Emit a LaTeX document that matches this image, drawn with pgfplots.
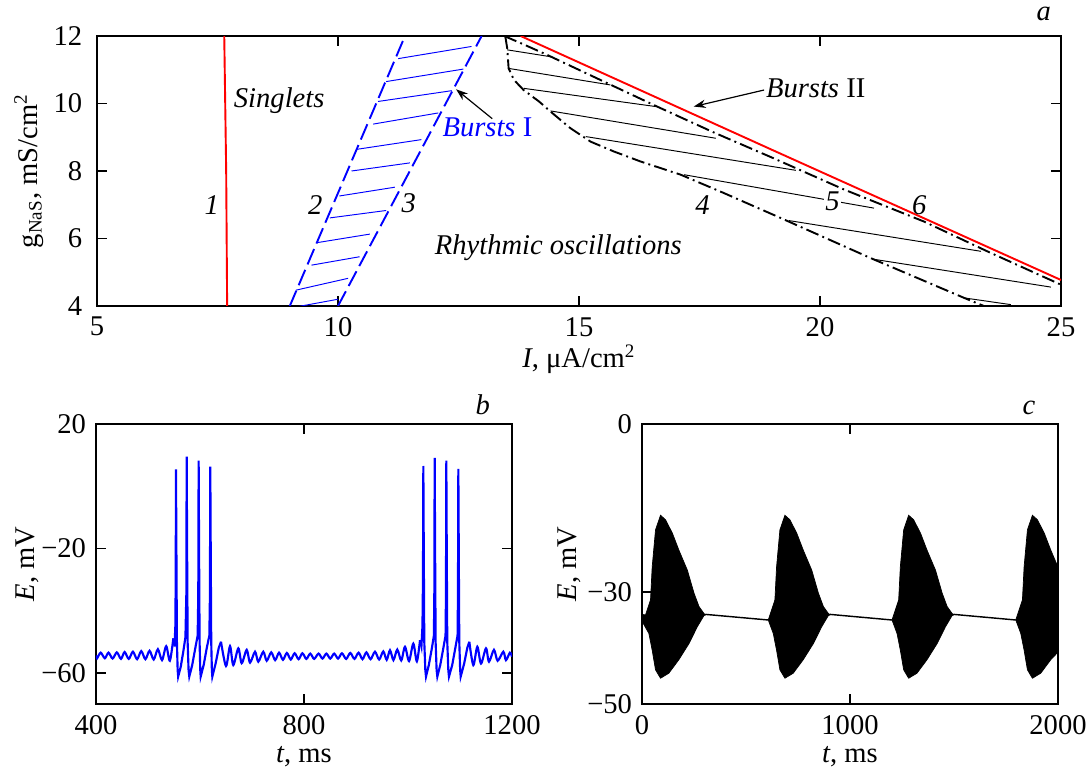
\documentclass[border=0pt]{standalone}
\usepackage{fontspec}
\setmainfont{Liberation Serif}
\usepackage{pgfplots}
\pgfplotsset{compat=1.18}
\usetikzlibrary{arrows.meta}

\definecolor{pblue}{RGB}{0,0,255}
\definecolor{pred}{RGB}{255,0,0}

\begin{document}
\fontsize{12}{14.4}\selectfont
\begin{tikzpicture}
\pgfplotsset{
  every axis/.append style={
    scale only axis,
    anchor=south west,
    axis line style={line width=0.9pt},
    tick align=inside,
    major tick length=4pt,
    tick style={line width=0.6pt, black},
    /pgf/number format/assume math mode=true,
    /pgf/number format/1000 sep={},
    clip mode=individual,
    xticklabel style={yshift=-3.5pt, inner sep=1pt},
    xlabel style={at={(axis description cs:0.5,0)}, anchor=base, inner sep=1pt},
  },
  dashdot/.style={black, line width=0.8pt, dash pattern=on 5.5pt off 1.8pt on 0.8pt off 1.8pt},
  hatch/.style={line width=0.4pt, unbounded coords=jump},
  trace/.style={pblue, line width=0.9pt},
}
\path[use as bounding box] (0,0) rectangle (456.96pt,323.4pt);

% ---------------- panel a ----------------
\begin{axis}[at={(40.74pt,194.88pt)}, width=404.88pt, height=113.4pt,
  xmin=5, xmax=25, ymin=4, ymax=12,
  xtick={5,10,15,20,25}, ytick={4,6,8,10,12},
  yticklabel style={xshift=-2pt},
  xlabel={\textit{I}, μA/cm\textsuperscript{2}},
  xlabel style={yshift=-26pt},
  ylabel={g\textsubscript{NaS}, mS/cm\textsuperscript{2}},
  ylabel style={at={(axis description cs:-0.0706,0.5)}, anchor=center},
]
% line 1
\addplot[pred, line width=0.8pt] coordinates {(7.64,12) (7.66,10) (7.68,8) (7.69,6) (7.70,4)};
% lines 2 and 3
\addplot[pblue, line width=0.8pt, dash pattern=on 7pt off 2.5pt] coordinates {(9.00,4) (11.39,12)};
\addplot[pblue, line width=0.8pt, dash pattern=on 7pt off 2.5pt] coordinates {(10.00,4) (12.98,12)};
% hatching, bursts I
\addplot[pblue, hatch] coordinates {
  (9.20,3.99) (10.00,4.20) (10,nan)
  (9.13,4.47) (10.21,4.82) (10,nan)
  (9.45,5.21) (10.45,5.46) (10,nan)
  (9.58,5.88) (10.66,6.13) (10,nan)
  (9.83,6.61) (11.00,6.83) (10,nan)
  (10.03,7.26) (11.18,7.52) (10,nan)
  (10.28,8.00) (11.49,8.24) (10,nan)
  (10.38,8.64) (11.73,8.93) (10,nan)
  (10.73,9.39) (12.08,9.72) (10,nan)
  (10.83,10.06) (12.36,10.38) (10,nan)
  (11.00,10.65) (12.60,11.02) (10,nan)
  (11.25,11.33) (12.77,11.69)};
% line 4
\addplot[dashdot] coordinates {(13.47,12.0) (13.51,11.64) (13.54,11.04) (13.65,10.70) (13.85,10.40)
  (14.17,10.06) (14.41,9.76) (14.82,9.27) (15.24,8.87) (15.72,8.58) (16.28,8.28) (17.11,7.89)
  (18.0,7.35) (19.18,6.61) (21.05,5.42) (22.99,4.24) (23.4,4.0)};
% line 5
\addplot[dashdot] coordinates {(13.45,12.0) (13.9,11.72) (14.34,11.44) (15.5,10.66) (16.62,9.91)
  (17.8,9.14) (19.0,8.4) (20.5,7.45) (22.16,6.5) (23.5,5.6) (25,4.63)};
% hatching, bursts II
\addplot[black, hatch] coordinates {
  (13.51,11.59) (14.44,11.38) (10,nan)
  (13.54,11.04) (15.65,10.55) (10,nan)
  (13.85,10.45) (16.59,9.91) (10,nan)
  (14.41,9.78) (17.84,8.97) (10,nan)
  (15.14,9.02) (19.50,8.02) (10,nan)
  (17.18,7.89) (21.12,6.90) (10,nan)
  (19.36,6.53) (23.34,5.62) (10,nan)
  (21.09,5.39) (24.79,4.56) (10,nan)
  (22.99,4.24) (23.96,4.04)};
% line 6
\addplot[pred, line width=0.8pt] coordinates {(13.79,12.0) (19.0,8.63) (25,4.77)};

\node at (axis cs:8.78,10.1) {\textit{Singlets}};
\node at (axis cs:7.38,7.0) {\textit{1}};
\node at (axis cs:9.53,7.0) {\textit{2}};
\node at (axis cs:11.47,7.05) {\textit{3}};
\node[text=pblue] at (axis cs:13.1,9.28) {\textit{Bursts} I};
\node at (axis cs:14.57,5.73) {\textit{Rhythmic oscillations}};
\node at (axis cs:17.56,7.0) {\textit{4}};
\node[fill=white, inner sep=0.5pt] at (axis cs:20.26,7.1) {\textit{5}};
\node at (axis cs:22.06,7.0) {\textit{6}};
\node at (axis cs:19.91,10.46) {\textit{Bursts} II};
\draw[-{Stealth[length=5pt,width=3.5pt]}, line width=0.5pt] (axis cs:13.2,9.55) -- (axis cs:12.45,10.42);
\draw[-{Stealth[length=5pt,width=3.5pt]}, line width=0.5pt] (axis cs:18.84,10.40) -- (axis cs:17.38,9.91);
\node[anchor=base] at (rel axis cs:0.982,1) [yshift=6.5pt] {\textit{a}};
\end{axis}

% ---------------- panel b ----------------
\begin{axis}[at={(40.32pt,27.72pt)}, width=174.72pt, height=117.6pt,
  xmin=400, xmax=1200, ymin=-70, ymax=20,
  xtick={400,800,1200}, ytick={-60,-20,20}, yticklabels={−60,−20,20},
  xlabel={\textit{t}, ms},
  xlabel style={yshift=-24.5pt},
  ylabel={\textit{E}, mV},
  ylabel style={at={(axis description cs:-0.164,0.5)}, anchor=center},
]
% sub-threshold oscillations before the first burst
\addplot[trace, smooth, tension=0.5] coordinates {
(400,-54.4)(402,-55.3)(409,-53.5)(417,-55.3)(424,-53.5)(432,-55.4)(440,-53.4)(448,-55.5)(455,-53.3)
(463,-55.5)(471,-53.2)(479,-55.6)(487,-53.0)(495,-55.6)(503,-52.9)(511,-55.7)(519,-52.4)(527,-55.9)
(535,-51.4)(542,-56.1)(548.7,-48.9)};
% first burst
\addplot[trace] coordinates {
(548.7,-48.9)(551,-51.5)(552.6,-45)(553.3,-30)(553.8,5.4)(554.6,-20)(555.6,-50)
(557,-59)(558,-61.2)(563,-58)(568,-53)(572,-48.5)(573.7,-35)(574.4,9.5)(575.2,-20)(576.2,-50)(578,-59)
(579.4,-61.2)(585,-57.5)(591,-52)(595.5,-48)(596.7,-35)(597.4,8.2)(598.2,-20)(599.2,-50)(600.5,-59)
(601.3,-61.2)(607,-57.5)(613,-52)(618,-48)(619.1,-35)(619.8,6.3)(620.6,-20)(621.6,-50)(622.8,-59)
(623.7,-61.2)(630,-57)(636,-52)(640.4,-50.0)};
% oscillations between the bursts
\addplot[trace, smooth, tension=0.5] coordinates {
(640.4,-50.0)(650,-57.8)(657.7,-51.4)(664,-57.5)(673.7,-52.1)(680.2,-56.9)
(689.8,-52.6)(696.2,-56.7)(705.8,-53.2)(712.1,-56.4)(721.7,-53.2)(728.3,-56.1)(737,-53.4)(744.5,-55.9)
(752,-53.5)(759.5,-55.8)(767,-53.6)(774.5,-55.7)(782,-53.7)(789.5,-55.6)(797,-53.7)(804.5,-55.5)
(812,-53.8)(819.5,-55.5)(828,-53.8)(835.5,-55.4)(843,-53.8)(850.5,-55.4)(858,-53.8)(865.5,-55.4)
(873,-53.7)(881,-55.5)(889,-53.6)(897,-55.5)(905,-53.5)(912.5,-55.6)(920,-53.4)(928,-55.6)(936.5,-53.2)
(944.5,-55.7)(952.5,-53.1)(959,-55.8)(965.4,-52.7)(972,-55.9)(979.4,-52.5)(987,-56.0)(994.2,-51.6)
(1002,-56.2)(1010.2,-50.6)(1017,-56.3)(1023.1,-49.5)};
% second burst
\addplot[trace] coordinates {
(1023.1,-49.5)(1025.8,-51.5)(1027.8,-45)(1028.8,-30)(1029.5,6.5)
(1030.3,-20)(1031.3,-50)(1033.3,-59)(1034.6,-61.2)(1040,-57.5)(1046,-52)(1049.8,-48)(1050.6,-35)
(1051.3,9.1)(1052.1,-20)(1053.1,-50)(1055,-59)(1056.4,-61.2)(1062,-57.5)(1068,-52)(1072.2,-48)
(1073,-35)(1073.7,8.2)(1074.5,-20)(1075.5,-50)(1077.5,-59)(1078.8,-61.2)(1085,-57.5)(1091,-52)
(1095.3,-48)(1096.1,-35)(1096.8,5.6)(1097.6,-20)(1098.6,-50)(1100.3,-59)(1101.3,-61.2)(1108,-57)
(1114,-52)(1117.9,-50.0)};
% oscillations after the second burst
\addplot[trace, smooth, tension=0.5] coordinates {
(1117.9,-50.0)(1125.6,-57.5)(1133.3,-51.6)(1140.4,-57.0)(1150,-52.1)(1155.7,-56.4)
(1165.3,-52.6)(1172.4,-56.1)(1183.3,-53.2)(1188.4,-55.9)(1196,-53.5)(1200,-54.8)};
\node[anchor=base] at (rel axis cs:0.93,1) [yshift=4pt] {\textit{b}};
\end{axis}

% ---------------- panel c ----------------
\begin{axis}[at={(269.64pt,27.72pt)}, width=174.72pt, height=117.6pt,
  xmin=0, xmax=2000, ymin=-50, ymax=0,
  xtick={0,1000,2000}, ytick={-50,-30,0}, yticklabels={−50,−30,0},
  xlabel={\textit{t}, ms},
  xlabel style={yshift=-24.5pt},
  ylabel={\textit{E}, mV},
  ylabel style={at={(axis description cs:-0.1756,0.5)}, anchor=center},
]
% quiet segments
\addplot[black, line width=0.6pt, unbounded coords=jump] coordinates {
  (306,-34.0) (607,-35.0) (1000,nan) (904,-34.0) (1202,-35.0) (1000,nan) (1499,-34.0) (1797,-35.0)};
% burst envelopes
\addplot[fill=black, draw=black, line width=0.3pt] coordinates {
  (0,-34.0)(17,-34.1)(41,-31.4)(49,-25.5)(65,-18.9)(89,-16.3)(113,-17.1)(146,-19.5)(177,-22.5)
  (218,-26.1)(250,-30.2)(274,-32.6)(299,-33.9)(306,-34.0)
  (306,-34.1)(298,-34.2)(266,-36.2)(226,-39.2)(177,-42.1)(129,-44.5)(89,-45.4)(65,-43.9)(49,-40.4)
  (33,-37.4)(0,-35.2)} -- cycle;
\addplot[fill=black, draw=black, line width=0.3pt] coordinates {
  (607,-35.0)(615,-34.1)(639,-31.4)(647,-25.5)(663,-18.9)(687,-16.3)(711,-17.1)(744,-19.5)(775,-22.5)
  (816,-26.1)(848,-30.2)(872,-32.6)(897,-33.9)(904,-34.0)
  (904,-34.1)(896,-34.2)(864,-36.2)(824,-39.2)(775,-42.1)(727,-44.5)(687,-45.4)(663,-43.9)(647,-40.4)
  (631,-37.4)(607,-35.0)} -- cycle;
\addplot[fill=black, draw=black, line width=0.3pt] coordinates {
  (1202,-35.0)(1210,-34.1)(1234,-31.4)(1242,-25.5)(1258,-18.9)(1282,-16.3)(1306,-17.1)(1339,-19.5)
  (1370,-22.5)(1411,-26.1)(1443,-30.2)(1467,-32.6)(1492,-33.9)(1499,-34.0)
  (1499,-34.1)(1491,-34.2)(1459,-36.2)(1419,-39.2)(1370,-42.1)(1322,-44.5)(1282,-45.4)(1258,-43.9)
  (1242,-40.4)(1226,-37.4)(1202,-35.0)} -- cycle;
\addplot[fill=black, draw=black, line width=0.3pt] coordinates {
  (1797,-35.0)(1805,-34.1)(1829,-31.4)(1837,-25.5)(1853,-18.9)(1877,-16.3)(1901,-17.1)(1934,-19.5)
  (1965,-22.5)(2006,-26.1)
  (2006,-40.5)(1965,-42.1)(1917,-44.5)(1877,-45.4)(1853,-43.9)(1837,-40.4)(1821,-37.4)(1797,-35.0)} -- cycle;
\node[anchor=base] at (rel axis cs:0.93,1) [yshift=4pt] {\textit{c}};
\end{axis}
\end{tikzpicture}
\end{document}
